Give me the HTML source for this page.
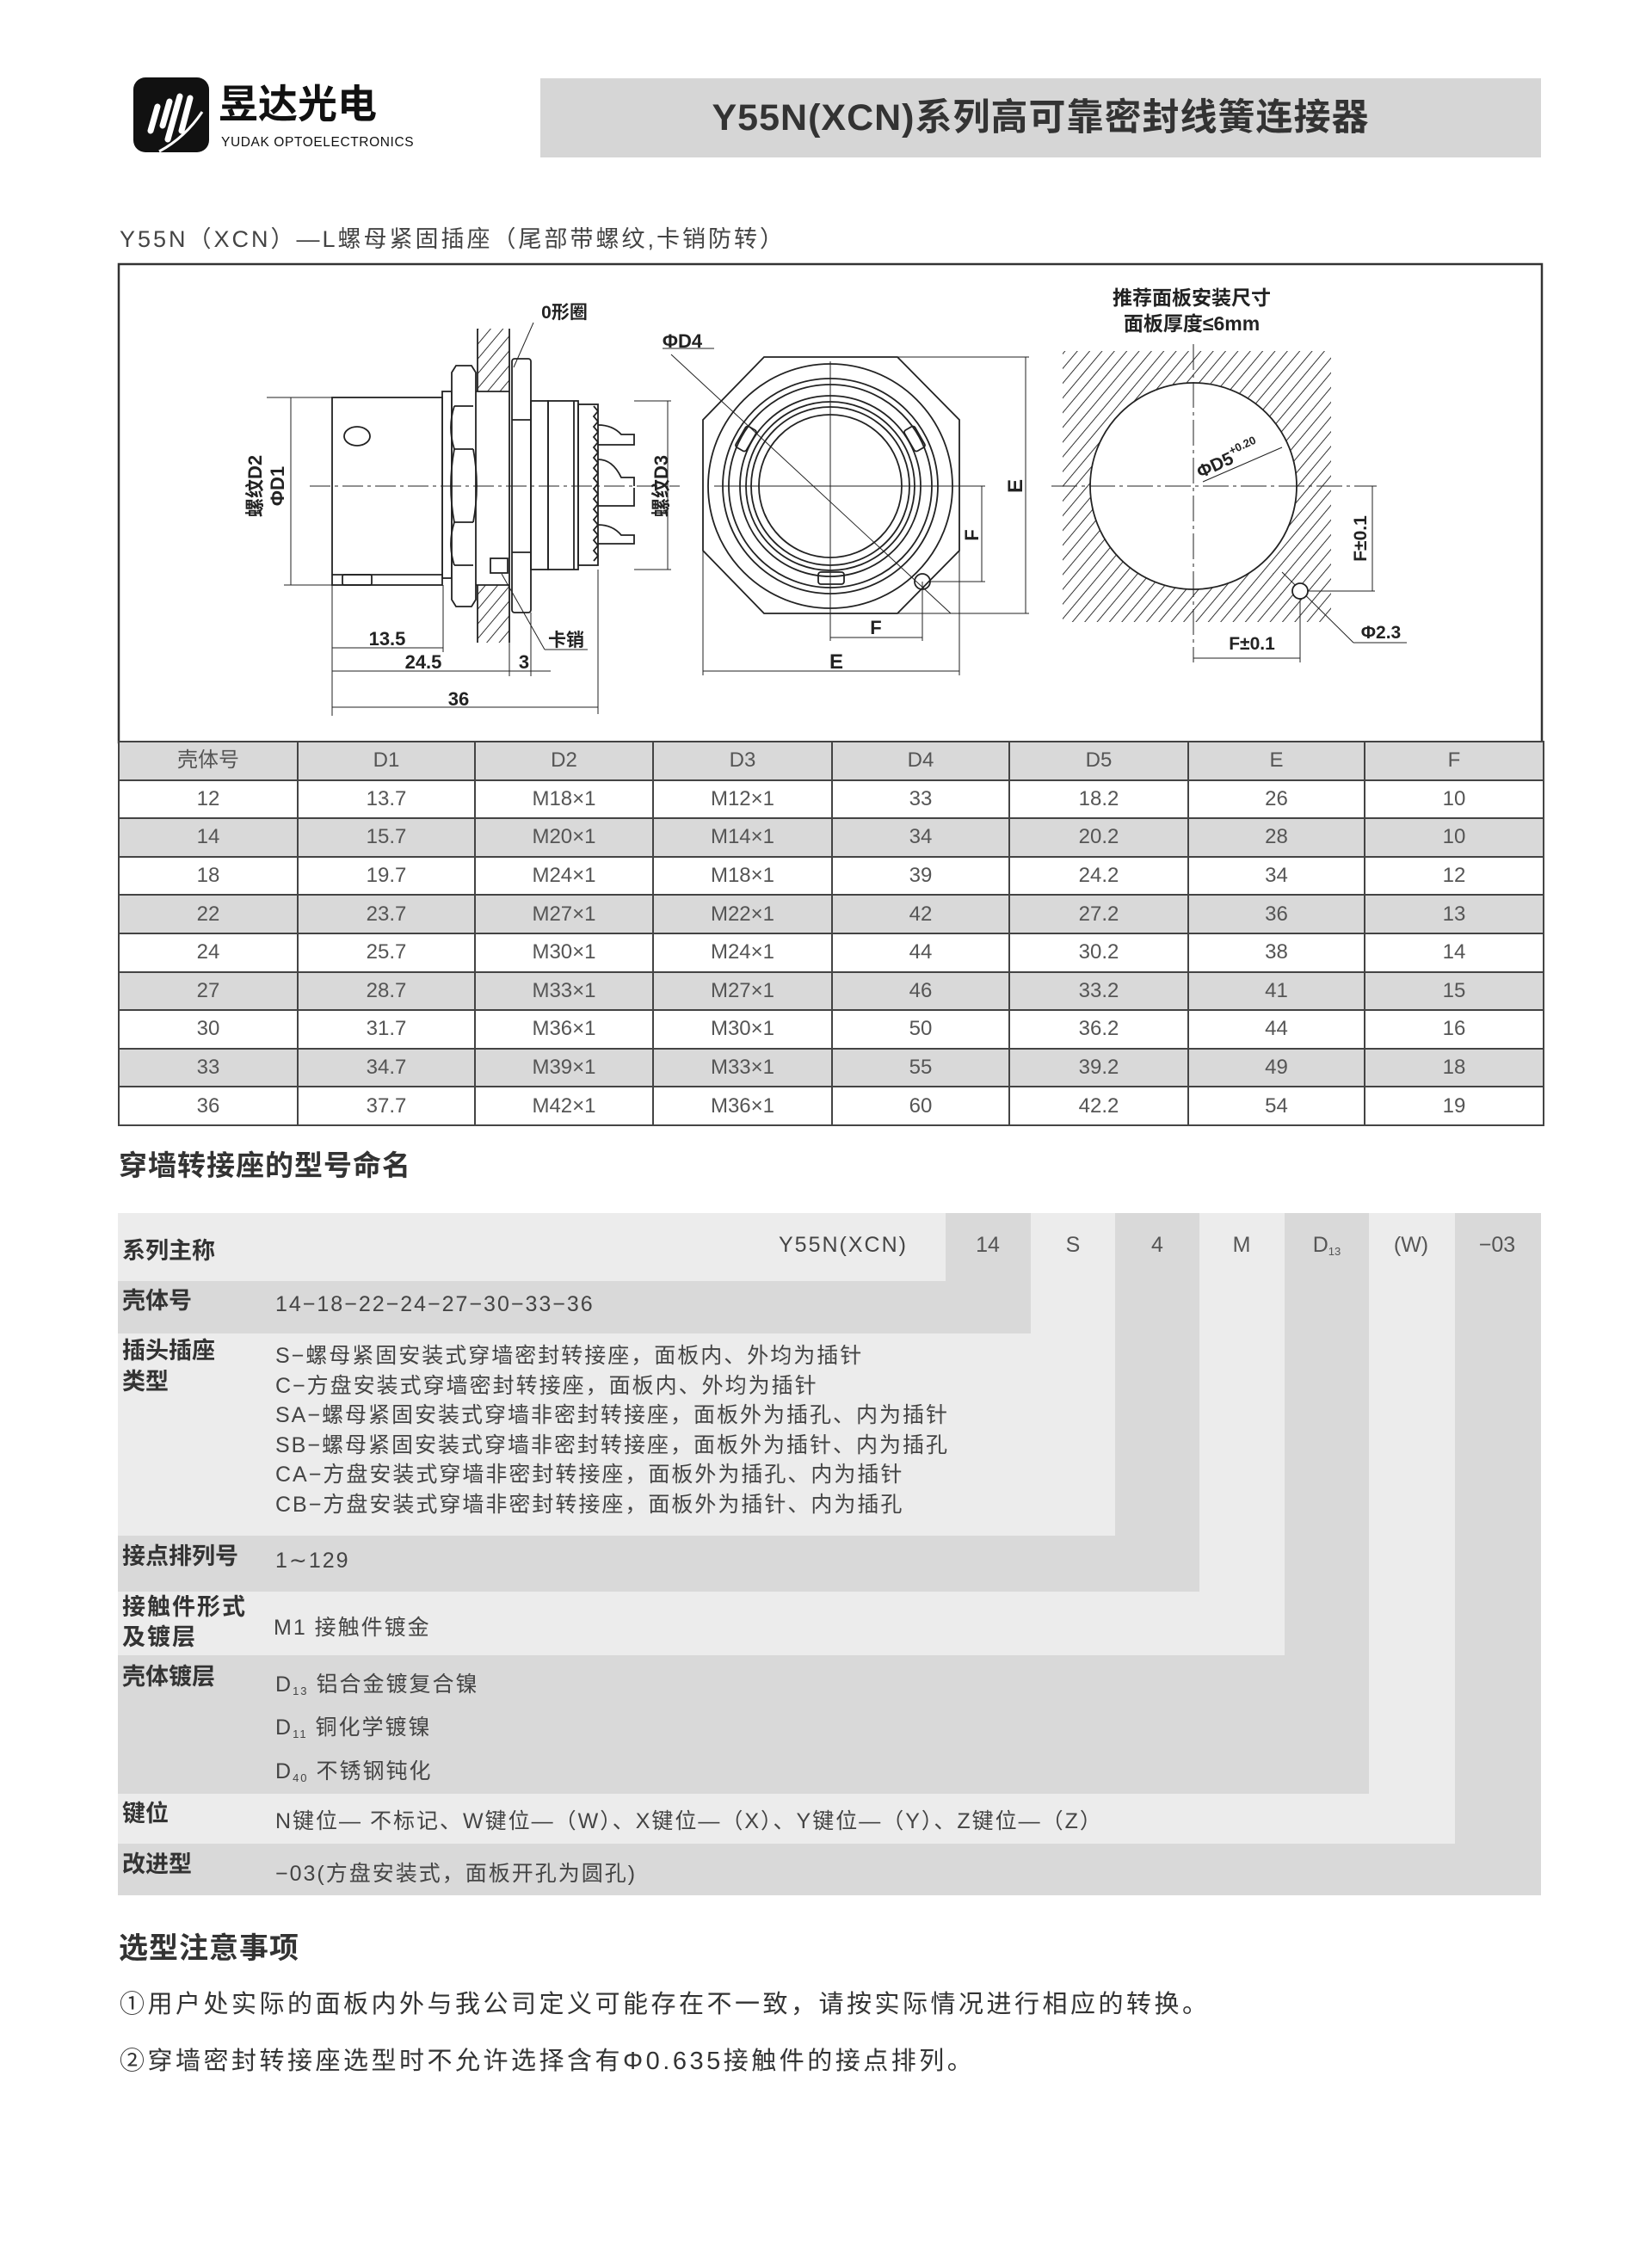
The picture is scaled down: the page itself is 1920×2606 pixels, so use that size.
<!DOCTYPE html>
<html><head><meta charset="utf-8">
<style>
*{margin:0;padding:0;box-sizing:border-box}
body{width:1920px;height:2606px;background:#fff;position:relative;overflow:hidden;font-family:"Liberation Sans","Noto Sans CJK SC",sans-serif;color:#333}
.a{position:absolute;white-space:nowrap}
table{position:absolute;left:137px;top:861px;width:1656px;border-collapse:collapse;table-layout:fixed}
td{border:2px solid #444;height:44.6px;text-align:center;font-size:24px;color:#555;padding:0;line-height:40px}
tr.g td{background:#d9d9d9}
.lb{font-size:27px;font-weight:bold;color:#333}
.v{font-size:25px;color:#444;letter-spacing:2px}
.c{font-size:25px;color:#555;width:98px;text-align:center}
sub{font-size:13px;line-height:0;vertical-align:-4px}
</style></head><body>
<!-- logo -->
<svg class="a" style="left:155px;top:90px" width="90" height="88" viewBox="0 0 90 88">
<rect x="0" y="0" width="88" height="87" rx="14" fill="#111"/>
<g stroke="#fff" stroke-width="7" stroke-linecap="round" fill="none">
<line x1="20" y1="62" x2="28" y2="34"/><line x1="34" y1="56" x2="42" y2="28"/><line x1="40" y1="72" x2="54" y2="22"/><line x1="56" y1="62" x2="66" y2="24"/>
</g><path d="M30 86 Q60 70 80 40" stroke="#fff" stroke-width="3" fill="none"/>
</svg>
<div class="a" style="left:254px;top:94px;font-size:46px;font-weight:bold;color:#111;line-height:54px">昱达光电</div>
<div class="a" style="left:257px;top:157px;font-size:15.5px;color:#111;letter-spacing:0.6px">YUDAK OPTOELECTRONICS</div>
<div class="a" style="left:628px;top:91px;width:1163px;height:92px;background:#d6d6d6"></div>
<div class="a" style="left:628px;top:91px;width:1163px;height:92px;text-align:center;line-height:92px;font-size:43px;font-weight:bold;color:#333;letter-spacing:1px">Y55N(XCN)系列高可靠密封线簧连接器</div>
<div class="a" style="left:139px;top:256px;font-size:27px;color:#444;letter-spacing:3px">Y55N（XCN）—L螺母紧固插座（尾部带螺纹,卡销防转）</div>

<!-- drawing -->
<svg class="a" style="left:0;top:0" width="1920" height="870" viewBox="0 0 1920 870" font-family="Liberation Sans, Noto Sans CJK SC, sans-serif">
<defs>
<pattern id="h" width="11" height="11" patternUnits="userSpaceOnUse" patternTransform="rotate(40)"><line x1="0" y1="0" x2="0" y2="11" stroke="#333" stroke-width="2"/></pattern>
</defs>
<rect x="138" y="307" width="1654" height="556" fill="none" stroke="#333" stroke-width="2.5"/>
<g stroke="#222" stroke-width="1.8" fill="none">
<!-- left view -->
<rect x="555" y="382" width="37" height="73" fill="url(#h)" stroke="none"/>
<rect x="555" y="680" width="37" height="67" fill="url(#h)" stroke="none"/>
<line x1="555" y1="382" x2="555" y2="455"/><line x1="592" y1="382" x2="592" y2="747"/><line x1="555" y1="680" x2="555" y2="747"/>
<rect x="595" y="417" width="22" height="295" rx="3" fill="#fff"/>
<line x1="595" y1="488" x2="617" y2="488"/><line x1="595" y1="642" x2="617" y2="642"/>
<rect x="514" y="455" width="11" height="217" fill="#fff"/>
<path d="M525 433 L530 425 L548 425 L553 433 L553 697 L548 705 L530 705 L525 697 Z" fill="#fff"/>
<path d="M528 472 L550 472 M528 522 L550 522 M528 607 L550 607 M528 657 L550 657 M528 472 Q520 497 528 522 M528 607 Q520 632 528 657 M550 522 Q558 565 550 607 M528 522 Q520 565 528 607"/>
<rect x="386" y="462" width="128" height="218" fill="#fff"/>
<line x1="386" y1="668" x2="514" y2="668"/>
<ellipse cx="415" cy="507" rx="15" ry="11"/>
<rect x="398" y="668" width="34" height="12" rx="2"/>
<line x1="553" y1="455" x2="592" y2="455"/><line x1="553" y1="680" x2="592" y2="680"/>
<rect x="570" y="649" width="20" height="17"/>
<rect x="617" y="466" width="20" height="196"/>
<rect x="637" y="466" width="35" height="196"/>
<line x1="667" y1="466" x2="667" y2="662"/>
<rect x="672" y="470" width="23" height="187"/>
<path d="M690 472 l5 6 l-5 6 l5 6 l-5 6 l5 6 l-5 6 l5 6 l-5 6 l5 6 l-5 6 l5 6 l-5 6 l5 6 l-5 6 l5 6 l-5 6 l5 6 l-5 6 l5 6 l-5 6 l5 6 l-5 6 l5 6 l-5 6 l5 6 l-5 6 l5 6 l-5 6 l5 6 l-5 6"/>
<path d="M695 494 Q712 494 722 505 L737 505 L737 517 L695 517 M695 534 Q712 534 722 555 L737 555 L737 565 M695 588 L737 588 L737 567 M695 610 Q712 610 722 622 L737 622 L737 632 L695 632"/>
<!-- dims left -->
<g stroke-width="1">
<line x1="386" y1="462" x2="386" y2="832"/><line x1="515" y1="680" x2="515" y2="758"/><line x1="592" y1="747" x2="592" y2="786"/><line x1="617" y1="712" x2="617" y2="786"/><line x1="695" y1="662" x2="695" y2="830"/>
<line x1="386" y1="753" x2="515" y2="753"/><line x1="386" y1="780" x2="592" y2="780"/><line x1="592" y1="780" x2="640" y2="780"/><line x1="386" y1="822" x2="695" y2="822"/>
<line x1="737" y1="466" x2="780" y2="466"/><line x1="737" y1="662" x2="780" y2="662"/><line x1="776" y1="466" x2="776" y2="662"/>
<line x1="310" y1="462" x2="386" y2="462"/><line x1="330" y1="680" x2="386" y2="680"/><line x1="338" y1="462" x2="338" y2="680"/>
<line x1="620" y1="375" x2="597" y2="427"/><line x1="583" y1="667" x2="633" y2="755"/><line x1="633" y1="755" x2="683" y2="755"/>
<line x1="360" y1="565" x2="790" y2="565" stroke-dasharray="24 5 4 5"/>
</g>
<!-- front view -->
<path d="M888 415 L1043 415 L1115 488 L1115 640 L1043 713 L888 713 L817 640 L817 488 Z" fill="#fff"/>
<circle cx="965" cy="565" r="142"/><circle cx="965" cy="565" r="125"/><circle cx="965" cy="565" r="118"/>
<circle cx="965" cy="565" r="105"/><circle cx="965" cy="565" r="98"/><circle cx="965" cy="565" r="92"/><circle cx="965" cy="565" r="83"/>
<rect x="951" y="665" width="30" height="14" rx="3"/>
<rect x="860" y="496" width="14" height="28" rx="3" transform="rotate(30 867 510)"/>
<rect x="1056" y="496" width="14" height="28" rx="3" transform="rotate(-30 1063 510)"/>
<circle cx="1072" cy="676" r="9"/>
<g stroke-width="1">
<line x1="965" y1="420" x2="965" y2="745"/><line x1="830" y1="565" x2="1145" y2="565"/>
<line x1="780" y1="412" x2="1105" y2="713"/>
<line x1="1043" y1="415" x2="1196" y2="415"/><line x1="1043" y1="713" x2="1196" y2="713"/><line x1="1192" y1="415" x2="1192" y2="713"/>
<line x1="1080" y1="676" x2="1145" y2="676"/><line x1="1141" y1="565" x2="1141" y2="676"/>
<line x1="1072" y1="676" x2="1072" y2="745"/><line x1="965" y1="741" x2="1072" y2="741"/>
<line x1="817" y1="640" x2="817" y2="785"/><line x1="1115" y1="640" x2="1115" y2="785"/><line x1="817" y1="780" x2="1115" y2="780"/>
<line x1="770" y1="405" x2="830" y2="405"/>
</g>
<!-- right view -->
<rect x="1235" y="408" width="312" height="315" fill="url(#h)" stroke="none"/>
<circle cx="1387" cy="565" r="120" fill="#fff"/>
<g stroke-width="1">
<line x1="1222" y1="565" x2="1600" y2="565" stroke-dasharray="30 5 4 5"/><line x1="1387" y1="400" x2="1387" y2="770" stroke-dasharray="30 5 4 5"/>
<line x1="1398" y1="560" x2="1490" y2="520"/>
<line x1="1520" y1="687" x2="1598" y2="687"/><line x1="1595" y1="565" x2="1595" y2="687"/>
<line x1="1511" y1="687" x2="1511" y2="770"/><line x1="1387" y1="765" x2="1511" y2="765"/>
<line x1="1490" y1="665" x2="1573" y2="747"/><line x1="1573" y1="747" x2="1635" y2="747"/>
</g>
<circle cx="1511" cy="687" r="9" fill="#fff"/>
</g>
<g fill="#222" font-weight="bold">
<text x="450" y="750" font-size="22" text-anchor="middle">13.5</text>
<text x="492" y="777" font-size="22" text-anchor="middle">24.5</text>
<text x="609" y="777" font-size="22" text-anchor="middle">3</text>
<text x="533" y="820" font-size="22" text-anchor="middle">36</text>
<text x="656" y="370" font-size="21" text-anchor="middle">0形圈</text>
<text x="658" y="751" font-size="21" text-anchor="middle">卡销</text>
<text transform="translate(776 565) rotate(-90)" font-size="22" text-anchor="middle">螺纹D3</text>
<text transform="translate(304 565) rotate(-90)" font-size="22" text-anchor="middle">螺纹D2</text>
<text transform="translate(330 565) rotate(-90)" font-size="22" text-anchor="middle">ΦD1</text>
<text x="793" y="404" font-size="22" text-anchor="middle">ΦD4</text>
<text transform="translate(1188 565) rotate(-90)" font-size="24" text-anchor="middle">E</text>
<text transform="translate(1137 622) rotate(-90)" font-size="22" text-anchor="middle">F</text>
<text x="1018" y="737" font-size="22" text-anchor="middle">F</text>
<text x="972" y="777" font-size="24" text-anchor="middle">E</text>
<text x="1385" y="354" font-size="23" text-anchor="middle">推荐面板安装尺寸</text>
<text x="1385" y="384" font-size="23" text-anchor="middle">面板厚度≤6mm</text>
<text transform="translate(1430 540) rotate(-25)" font-size="21" text-anchor="middle">ΦD5<tspan font-size="13" dy="-10">+0.20</tspan></text>
<text transform="translate(1588 626) rotate(-90)" font-size="21" text-anchor="middle">F±0.1</text>
<text x="1455" y="755" font-size="21" text-anchor="middle">F±0.1</text>
<text x="1605" y="742" font-size="21" text-anchor="middle">Φ2.3</text>
</g>
</svg>

<table>
<colgroup><col style="width:208px"><col style="width:206px"><col style="width:207px"><col style="width:208px"><col style="width:206px"><col style="width:208px"><col style="width:205px"><col style="width:208px"></colgroup>
<tr class="g"><td>壳体号</td><td>D1</td><td>D2</td><td>D3</td><td>D4</td><td>D5</td><td>E</td><td>F</td></tr>
<tr><td>12</td><td>13.7</td><td>M18×1</td><td>M12×1</td><td>33</td><td>18.2</td><td>26</td><td>10</td></tr>
<tr class="g"><td>14</td><td>15.7</td><td>M20×1</td><td>M14×1</td><td>34</td><td>20.2</td><td>28</td><td>10</td></tr>
<tr><td>18</td><td>19.7</td><td>M24×1</td><td>M18×1</td><td>39</td><td>24.2</td><td>34</td><td>12</td></tr>
<tr class="g"><td>22</td><td>23.7</td><td>M27×1</td><td>M22×1</td><td>42</td><td>27.2</td><td>36</td><td>13</td></tr>
<tr><td>24</td><td>25.7</td><td>M30×1</td><td>M24×1</td><td>44</td><td>30.2</td><td>38</td><td>14</td></tr>
<tr class="g"><td>27</td><td>28.7</td><td>M33×1</td><td>M27×1</td><td>46</td><td>33.2</td><td>41</td><td>15</td></tr>
<tr><td>30</td><td>31.7</td><td>M36×1</td><td>M30×1</td><td>50</td><td>36.2</td><td>44</td><td>16</td></tr>
<tr class="g"><td>33</td><td>34.7</td><td>M39×1</td><td>M33×1</td><td>55</td><td>39.2</td><td>49</td><td>18</td></tr>
<tr><td>36</td><td>37.7</td><td>M42×1</td><td>M36×1</td><td>60</td><td>42.2</td><td>54</td><td>19</td></tr>
</table>

<div class="a" style="left:138px;top:1328px;font-size:33px;font-weight:bold;color:#333;letter-spacing:1px">穿墙转接座的型号命名</div>

<!-- naming staircase -->
<svg class="a" style="left:0;top:0" width="1920" height="2250">
<g fill="#d9d9d9">
<rect x="1691" y="1410" width="100" height="793"/><rect x="137" y="2143" width="1654" height="60"/>
</g>
<g fill="#ececec"><rect x="1591" y="1410" width="100" height="733"/><rect x="137" y="2085" width="1554" height="58"/></g>
<g fill="#d9d9d9"><rect x="1493" y="1410" width="98" height="675"/><rect x="137" y="1924" width="1454" height="161"/></g>
<g fill="#ececec"><rect x="1394" y="1410" width="99" height="514"/><rect x="137" y="1850" width="1356" height="74"/></g>
<g fill="#d9d9d9"><rect x="1296" y="1410" width="98" height="440"/><rect x="137" y="1785" width="1257" height="65"/></g>
<g fill="#ececec"><rect x="1198" y="1410" width="98" height="375"/><rect x="137" y="1550" width="1159" height="235"/></g>
<g fill="#d9d9d9"><rect x="1099" y="1410" width="99" height="140"/><rect x="137" y="1489" width="1061" height="61"/></g>
<rect x="137" y="1410" width="962" height="79" fill="#ececec"/>
</svg>
<div class="a lb" style="left:142px;top:1432px">系列主称</div>
<div class="a v" style="left:905px;top:1433px">Y55N(XCN)</div>
<div class="a c" style="left:1099px;top:1433px">14</div>
<div class="a c" style="left:1198px;top:1433px">S</div>
<div class="a c" style="left:1296px;top:1433px">4</div>
<div class="a c" style="left:1394px;top:1433px">M</div>
<div class="a c" style="left:1493px;top:1433px">D<sub>13</sub></div>
<div class="a c" style="left:1591px;top:1433px">(W)</div>
<div class="a c" style="left:1691px;top:1433px">−03</div>

<div class="a lb" style="left:142px;top:1490px">壳体号</div>
<div class="a v" style="left:320px;top:1502px">14−18−22−24−27−30−33−36</div>

<div class="a lb" style="left:142px;top:1552px;line-height:36px">插头插座<br>类型</div>
<div class="a v" style="left:320px;top:1559px;line-height:34.5px">S−螺母紧固安装式穿墙密封转接座，面板内、外均为插针<br>C−方盘安装式穿墙密封转接座，面板内、外均为插针<br>SA−螺母紧固安装式穿墙非密封转接座，面板外为插孔、内为插针<br>SB−螺母紧固安装式穿墙非密封转接座，面板外为插针、内为插孔<br>CA−方盘安装式穿墙非密封转接座，面板外为插孔、内为插针<br>CB−方盘安装式穿墙非密封转接座，面板外为插针、内为插孔</div>

<div class="a lb" style="left:142px;top:1787px">接点排列号</div>
<div class="a v" style="left:320px;top:1799px">1∼129</div>

<div class="a lb" style="left:142px;top:1851px;line-height:35px;letter-spacing:2px">接触件形式<br>及镀层</div>
<div class="a v" style="left:318px;top:1872px">M1 接触件镀金</div>

<div class="a lb" style="left:142px;top:1927px">壳体镀层</div>
<div class="a v" style="left:320px;top:1938px">D<sub>13</sub> 铝合金镀复合镍</div>
<div class="a v" style="left:320px;top:1988px">D<sub>11</sub> 铜化学镀镍</div>
<div class="a v" style="left:320px;top:2039px">D<sub>40</sub> 不锈钢钝化</div>

<div class="a lb" style="left:142px;top:2086px">键位</div>
<div class="a v" style="left:320px;top:2097px">N键位— 不标记、W键位—（W）、X键位—（X）、Y键位—（Y）、Z键位—（Z）</div>

<div class="a lb" style="left:142px;top:2145px">改进型</div>
<div class="a v" style="left:320px;top:2158px">−03(方盘安装式，面板开孔为圆孔)</div>

<div class="a" style="left:138px;top:2237px;font-size:34px;font-weight:bold;color:#333;letter-spacing:1px">选型注意事项</div>
<div class="a" style="left:139px;top:2306px;font-size:29px;color:#333;letter-spacing:3.5px">①用户处实际的面板内外与我公司定义可能存在不一致，请按实际情况进行相应的转换。</div>
<div class="a" style="left:139px;top:2372px;font-size:29px;color:#333;letter-spacing:3.5px">②穿墙密封转接座选型时不允许选择含有Φ0.635接触件的接点排列。</div>
</body></html>
